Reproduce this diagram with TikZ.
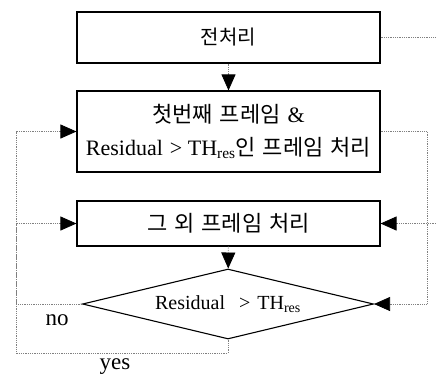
\documentclass[tikz,border=0pt]{standalone}
\usepackage{fontspec}
\setmainfont{Liberation Serif}
\newfontfamily\kr{Noto Sans CJK KR}
\usetikzlibrary{shapes.geometric,arrows.meta}
\newcommand{\gap}{\hspace{7pt}}
\tikzset{
  stepbox/.style={draw,line width=1.1pt,minimum width=303pt,inner sep=0pt,align=center},
  cond/.style={draw,diamond,line width=1.1pt,minimum width=291pt,minimum height=70pt,inner sep=0pt,aspect=4.16},
  conn/.style={densely dotted,gray,line width=0.8pt},
  arrowhd/.style={-{Triangle[length=16pt,width=14pt,color=black,fill=black]}}
}
\begin{document}
\begin{tikzpicture}[x=1pt,y=1pt,font=\fontsize{22}{33}\selectfont]
  \useasboundingbox (0,0) rectangle (436,-381);

  % 처리 블록
  \node[stepbox,minimum height=51pt] (pre) at (228.5,-37.5) {\kr\fontsize{20}{24}\selectfont 전처리};
  \node[stepbox,minimum height=81pt] (first) at (228.5,-131.5)
    {{\kr 첫번째\gap 프레임\gap}\&\\Residual\gap >\ TH\textsubscript{res}{\kr 인\gap 프레임\gap 처리}};
  \node[stepbox,minimum height=45pt] (other) at (228.5,-223.5) {\kr 그\gap 외\gap 프레임\gap 처리};
  \node[cond,font=\fontsize{20}{24}\selectfont] (chk) at (228,-304) {Residual\gap\gap >\gap TH\textsubscript{res}};

  % 보조 좌표
  \coordinate (preout) at (436,-37.5);
  \coordinate (otherin) at (436,-223.5);
  \coordinate (rside) at (427,-131.5);
  \coordinate (lside) at (16,-304);
  \coordinate (lbot) at (16,-353);

  % 연결선
  \draw[conn,arrowhd] (pre) -- (first);
  \draw[conn,arrowhd] (other) -- (chk);
  \draw[conn] (pre.east) -- (preout);
  \draw[conn,arrowhd] (otherin) -- (other.east);
  \draw[conn,arrowhd] (first.east) -- (rside) |- (chk.east);
  \draw[conn,arrowhd] (chk.west) -- (lside) |- (other.west);
  \draw[conn,arrowhd] (chk.south) |- (lbot) |- (first.west);

  % 라벨
  \node[font=\fontsize{23}{27}\selectfont] (nolbl) at (57,-320) {no};
  \node[font=\fontsize{23}{27}\selectfont] (yeslbl) at (115,-367) {yes};
\end{tikzpicture}
\end{document}
